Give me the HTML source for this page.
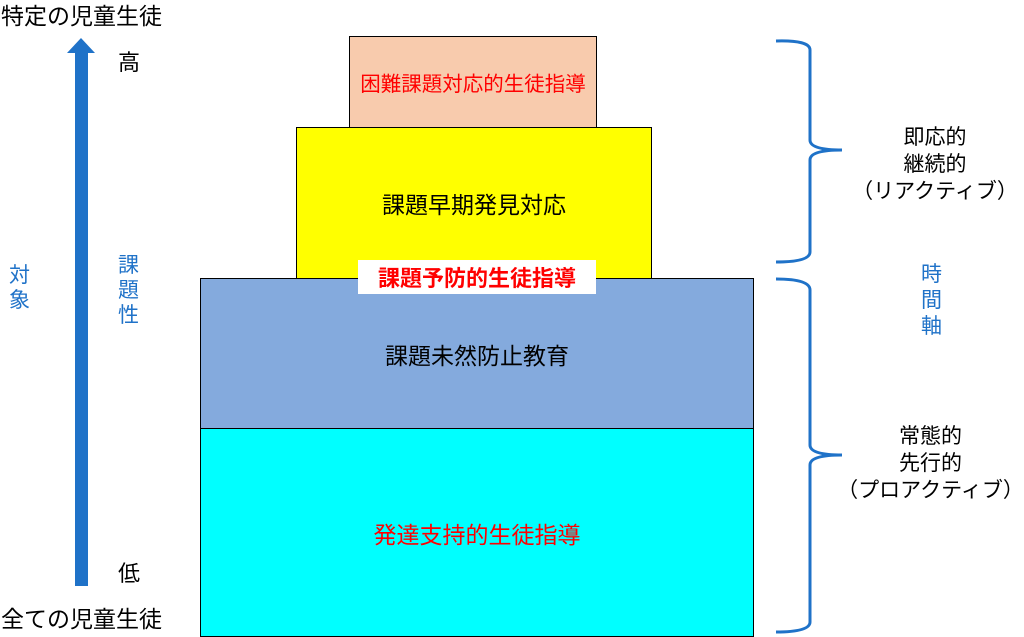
<!DOCTYPE html>
<html><head><meta charset="utf-8"><style>
body{margin:0;width:1024px;height:637px;background:#fff;position:relative;overflow:hidden;font-family:"Liberation Sans","Noto Sans CJK JP",sans-serif;}
.a{position:absolute;white-space:nowrap}
.box{position:absolute;border:1.5px solid #000;box-sizing:border-box;display:flex;align-items:center;justify-content:center;font-size:23px}
</style></head><body>
<div class="a" style="left:1px;top:-3px;font-size:23px">特定の児童生徒</div>
<div class="a" style="left:1px;top:600px;font-size:23px">全ての児童生徒</div>
<div class="a" style="left:118px;top:45px;font-size:22px">高</div>
<div class="a" style="left:118px;top:556px;font-size:22px">低</div>
<div class="a" style="left:9px;top:263px;font-size:21px;color:#1f72c8;width:22px;line-height:25px;white-space:normal">対象</div>
<div class="a" style="left:118px;top:253px;font-size:21px;color:#1f72c8;width:22px;line-height:25px;white-space:normal">課題性</div>
<svg class="a" style="left:0;top:0" width="1024" height="637">
<polygon points="81,38 95,53 88,53 88,586 75,586 75,53 67,53" fill="#1f72c8"/>
<path d="M776,41 Q810,40 810,50 L810,140 Q810,150 842,150 Q810,150 810,160 L810,252 Q810,262 776,262" fill="none" stroke="#1f72c8" stroke-width="3"/>
<path d="M776,279 Q810,279 810,290 L810,445 Q810,455 842,455 Q810,455 810,465 L810,622 Q810,632 776,632" fill="none" stroke="#1f72c8" stroke-width="3"/>
</svg>
<div class="box" style="left:349px;top:36px;width:248px;height:92px;background:#f8cbad;color:#f00;font-size:20.5px">困難課題対応的生徒指導</div>
<div class="box" style="left:296px;top:127px;width:356px;height:152px;background:#ffff00">課題早期発見対応</div>
<div class="box" style="left:200px;top:278px;width:554px;height:151px;background:#84aadd">課題未然防止教育</div>
<div class="box" style="left:200px;top:428px;width:554px;height:209px;background:#00ffff;color:#f00">発達支持的生徒指導</div>
<div class="a" style="left:358px;top:260px;width:238px;height:34px;background:#fff;color:#f00;font-size:22px;font-weight:bold;display:flex;align-items:center;justify-content:center">課題予防的生徒指導</div>
<div class="a" style="left:835px;top:124px;width:200px;text-align:center;font-size:21px;line-height:27px">即応的<br>継続的<br>（リアクティブ）</div>
<div class="a" style="left:921px;top:262px;font-size:21px;line-height:26px;color:#1f72c8;width:22px;white-space:normal">時間軸</div>
<div class="a" style="left:828px;top:423px;width:205px;text-align:center;font-size:21px;line-height:27px">常態的<br>先行的<br>（プロアクティブ）</div>
</body></html>
